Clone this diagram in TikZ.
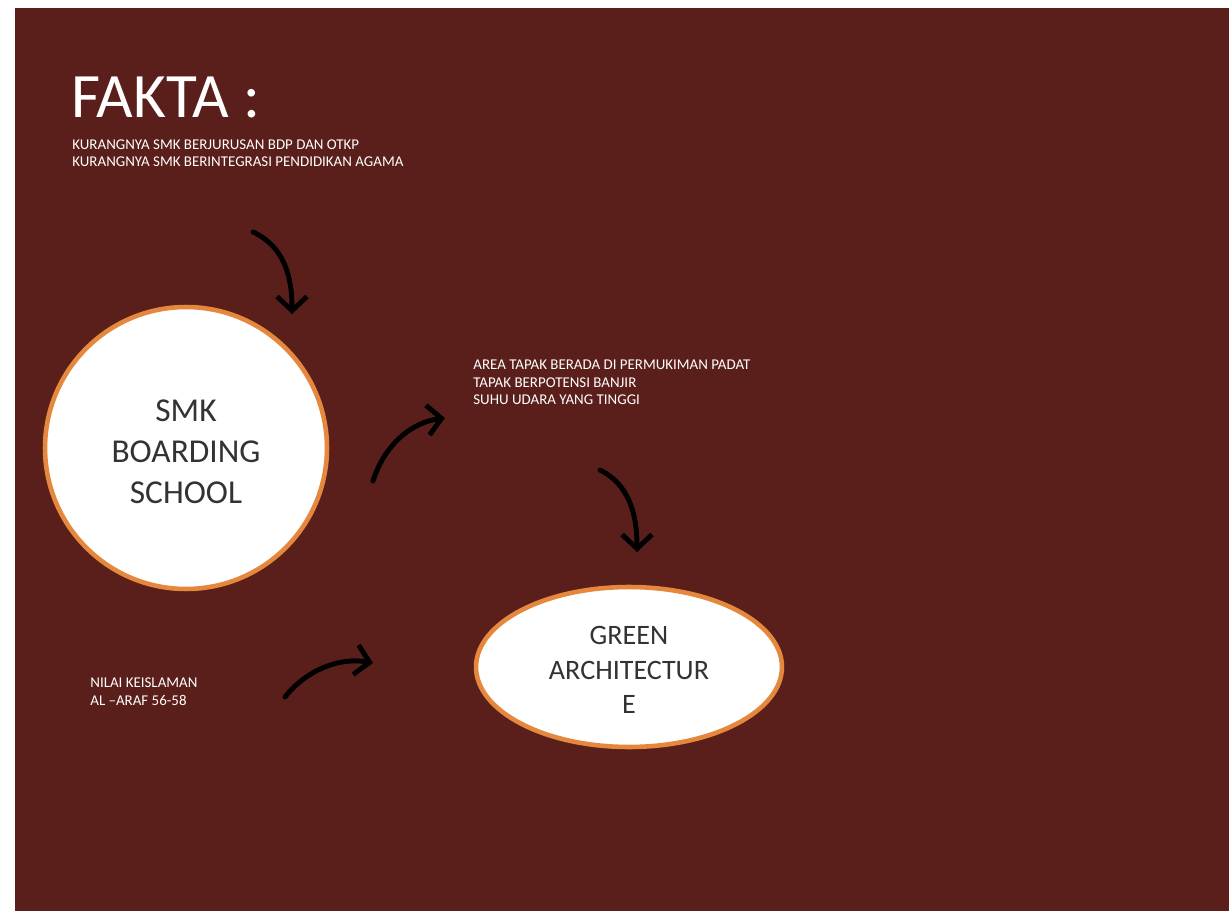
\documentclass[tikz,border=0pt]{standalone}
\usepackage{fontspec}
\setmainfont{Carlito}
\usetikzlibrary{positioning,arrows.meta,shapes.geometric}
\definecolor{maroonbg}{HTML}{5A1F1A}
\definecolor{rimorange}{HTML}{E5873C}
\definecolor{inkgray}{HTML}{333333}
\tikzset{bubble/.style={draw=rimorange,line width=2.6pt,fill=white,text=inkgray,align=center},
         note/.style={text=white,align=left,inner sep=0pt,font=\fontsize{8.5}{10.2}\selectfont},
         curvy/.style={line width=2.8pt,line cap=round,-{Straight Barb[length=8pt,width=17pt]}}
}

\begin{document}
\begin{tikzpicture}[x=0.02cm,y=-0.02cm]

\useasboundingbox (0,0) rectangle (1229,911);
\fill[white] (0,0) rectangle (1229,911);
\fill[maroonbg] (15,8) rectangle (1229,911);

\node[anchor=base west,inner sep=0pt,text=white,font=\fontsize{36}{40}\selectfont] (fakta) at (71,118) {FAKTA :};
% notes are anchored at the baseline of their last line
\node[note,anchor=base west] (faktalist) at (72,167) {KURANGNYA SMK BERJURUSAN BDP DAN OTKP\\KURANGNYA SMK BERINTEGRASI PENDIDIKAN AGAMA};
\node[bubble,circle,minimum size=5.64cm,font=\fontsize{19}{23.3}\selectfont,text height=63.5pt] (smk) at (186,448) {SMK\\BOARDING\\SCHOOL};
\node[note,anchor=base west] (tapak) at (473,405) {AREA TAPAK BERADA DI PERMUKIMAN PADAT\\TAPAK BERPOTENSI BANJIR\\SUHU UDARA YANG TINGGI};
\node[bubble,ellipse,minimum width=6.12cm,minimum height=3.2cm,inner sep=0pt,font=\fontsize{16}{19.6}\selectfont,text height=53pt] (green) at (629,667) {GREEN\\ARCHITECTUR\\E};
\node[note,anchor=base west] (nilai) at (90,705) {NILAI KEISLAMAN\\AL –ARAF 56-58};

% free-standing curved arrows
\coordinate (faktatail) at (253,232);
\coordinate (faktatip) at (292,314);
\coordinate (smktail) at (373,481);
\coordinate (smktip) at (445,418);
\coordinate (tapaktail) at (600,470);
\coordinate (tapaktip) at (637,552);
\coordinate (nilaitail) at (285,697);
\coordinate (nilaitip) at (373,663);
\draw[curvy] (faktatail) .. controls +(30,14) and +(0,-40) .. (faktatip);
\draw[curvy] (smktail) .. controls +(12,-38) and +(-32,4) .. (smktip);
\draw[curvy] (tapaktail) .. controls +(28,14) and +(0,-40) .. (tapaktip);
\draw[curvy] (nilaitail) .. controls +(22,-28) and +(-32,-6) .. (nilaitip);

\end{tikzpicture}
\end{document}
